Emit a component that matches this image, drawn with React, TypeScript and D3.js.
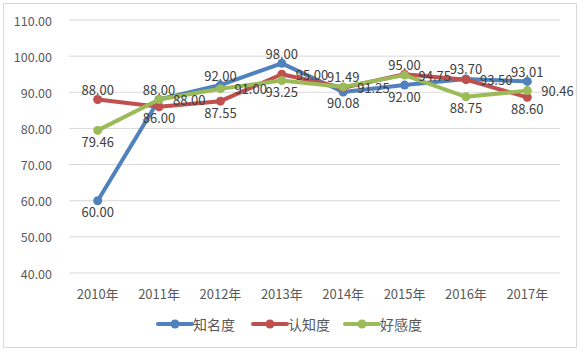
import React from "react";
import * as d3 from "d3";

const years = ["2010年", "2011年", "2012年", "2013年", "2014年", "2015年", "2016年", "2017年"];
const zhiMingDu = [60.0, 88.0, 92.0, 98.0, 90.08, 92.0, 93.7, 93.01];
const renZhiDu = [88.0, 86.0, 87.55, 95.0, 91.25, 95.0, 93.5, 88.6];
const haoGanDu = [79.46, 88.0, 91.0, 93.25, 91.49, 94.75, 88.75, 90.46];
const yTicks = [40, 50, 60, 70, 80, 90, 100, 110];

// where each data label sits relative to its point
const blueLabelPos = ["bottom", "top", "top", "top", "bottom", "bottom", "top", "top"];
const redLabelPos = ["top", "bottom", "bottom", "right", "right", "top", "right", "bottom"];
const greenLabelPos = ["bottom", "right", "right", "bottom", "top", "right", "bottom", "right"];

const series = [
  { name: "知名度", values: zhiMingDu, color: "#4F81BD", labelPos: blueLabelPos },
  { name: "认知度", values: renZhiDu, color: "#C0504D", labelPos: redLabelPos },
  { name: "好感度", values: haoGanDu, color: "#9BBB59", labelPos: greenLabelPos },
];

const font = "'Noto Sans CJK SC', 'Noto Sans', sans-serif";

export default function App() {
  const width = 584,
    height = 354;
  const left = 69,
    right = 560,
    top = 20,
    bottom = 273;

  const x = d3.scaleBand().domain(years).range([left, right]);
  const y = d3.scaleLinear().domain([40, 110]).range([bottom, top]);
  const cx = (i) => x(years[i]) + x.bandwidth() / 2 - 2;

  const line = d3
    .line()
    .x((d, i) => cx(i))
    .y((d) => y(d));

  const labelAttrs = (pos, px, py) => {
    if (pos === "top") return { x: px, y: py - 10, textAnchor: "middle" };
    if (pos === "bottom") return { x: px, y: py + 11, textAnchor: "middle" };
    return { x: px + 14, y: py, textAnchor: "start" };
  };

  const legendX = [158, 253, 345];

  return (
    <svg
      width={width}
      height={height}
      style={{ position: "absolute", left: 0, top: 0, fontFamily: font }}
    >
      <rect x={0} y={0} width={width} height={height} fill="#fff" />
      <rect x={3.5} y={3.5} width={573} height={344} fill="none" stroke="#D9D9D9" />

      <g>
        {yTicks.map((t) => (
          <g key={"grid" + t}>
            <line x1={left} x2={right} y1={y(t)} y2={y(t)} stroke="#D9D9D9" strokeWidth={1} />
            <text
              x={52}
              y={y(t)}
              textAnchor="end"
              dominantBaseline="central"
              fontSize={12.5}
              fill="#595959"
            >
              {t.toFixed(2)}
            </text>
          </g>
        ))}
      </g>

      <g>
        {years.map((yr, i) => (
          <text
            key={"x" + yr}
            x={cx(i)}
            y={293}
            textAnchor="middle"
            dominantBaseline="central"
            fontSize={13}
            fill="#595959"
          >
            {yr}
          </text>
        ))}
      </g>

      <g>
        {series.map((s) => (
          <g key={s.name}>
            <path
              d={line(s.values)}
              fill="none"
              stroke={s.color}
              strokeWidth={4}
              strokeLinejoin="round"
              strokeLinecap="round"
            />
            {s.values.map((v, i) => (
              <circle key={i} cx={cx(i)} cy={y(v)} r={4.5} fill={s.color} />
            ))}
          </g>
        ))}
      </g>

      <g>
        {series.map((s) =>
          s.values.map((v, i) => {
            const a = labelAttrs(s.labelPos[i], cx(i), y(v));
            return (
              <text
                key={s.name + "-l" + i}
                x={a.x}
                y={a.y}
                textAnchor={a.textAnchor}
                dominantBaseline="central"
                fontSize={13}
                fill="#404040"
              >
                {v.toFixed(2)}
              </text>
            );
          })
        )}
      </g>

      <g>
        {series.map((s, i) => (
          <g key={"leg" + s.name}>
            <line
              x1={legendX[i]}
              x2={legendX[i] + 34}
              y1={324}
              y2={324}
              stroke={s.color}
              strokeWidth={4}
              strokeLinecap="round"
            />
            <circle cx={legendX[i] + 17} cy={324} r={4.5} fill={s.color} />
            <text
              x={legendX[i] + 35}
              y={324}
              dominantBaseline="central"
              fontSize={14}
              fill="#595959"
            >
              {s.name}
            </text>
          </g>
        ))}
      </g>
    </svg>
  );
}
